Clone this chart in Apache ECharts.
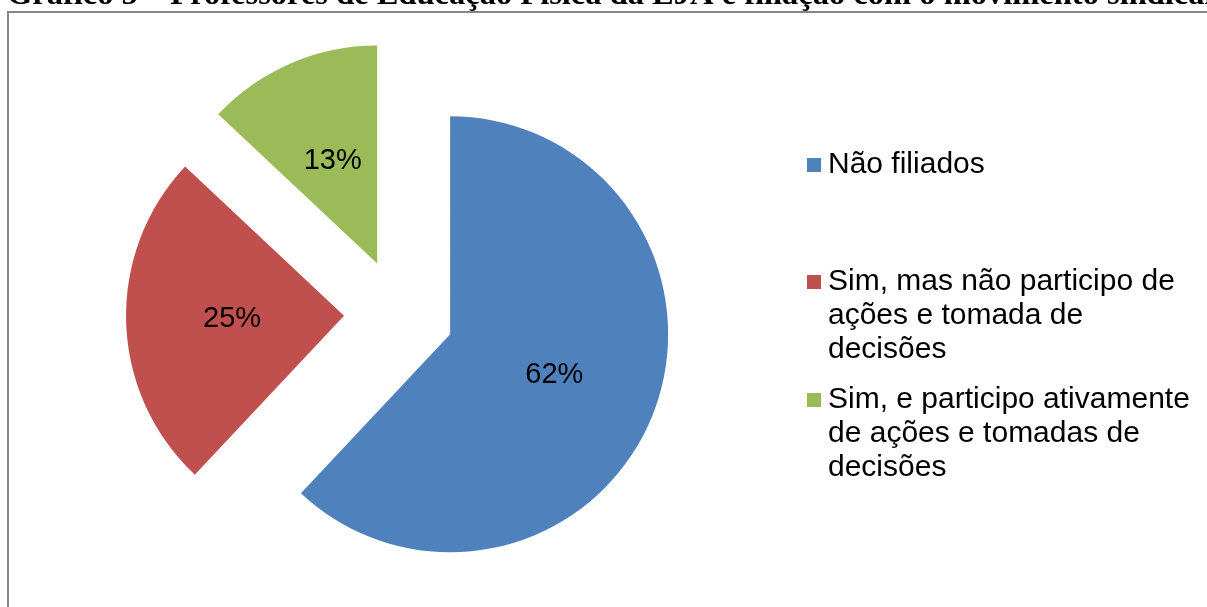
<!DOCTYPE html>
<html>
<head>
<meta charset="utf-8">
<script src="https://cdn.jsdelivr.net/npm/echarts@6/dist/echarts.min.js"></script>
<style>
    html, body { margin: 0; padding: 0; background: #fff; }
    #chart { width: 1207px; height: 607px; }
</style>
</head>
<body>
<div id="chart"></div>
<script>
// dados do gráfico
var categorias = ['Não filiados', 'Sim, mas não participo de ações e tomada de decisões', 'Sim, e participo ativamente de ações e tomadas de decisões'];
var valores = [62, 25, 13];
var cores = ['#4F81BD', '#C0504D', '#9BBB59'];
// texto da legenda quebrado em linhas como no original
var linhasLegenda = [
    ['Não filiados'],
    ['Sim, mas não participo de', 'ações e tomada de', 'decisões'],
    ['Sim, e participo ativamente', 'de ações e tomadas de', 'decisões']
];
var titulo = 'Gráfico 5 – Professores de Educação Física da EJA e filiação com o movimento sindical';

var chart = echarts.init(document.getElementById('chart'));

var dados = [];
for (var i = 0; i < categorias.length; i++) {
    dados.push({ name: categorias[i], value: valores[i], selected: true, itemStyle: { color: cores[i] } });
}

function legenda(i, top, multi) {
    return {
        orient: 'vertical',
        left: 807,
        top: top,
        padding: 0,
        itemWidth: 14,
        itemHeight: multi ? 102 : 14,
        icon: multi ? 'path://M0,0M0,10L14,10L14,24L0,24ZM14,102' : 'rect',
        selectedMode: false,
        data: [categorias[i]],
        formatter: function (name) {
            return linhasLegenda[categorias.indexOf(name)].join('\n');
        },
        textStyle: {
            fontFamily: 'Liberation Sans, Arial',
            fontSize: 30,
            lineHeight: 34,
            color: '#000',
            padding: [0, 0, 0, 2]
        }
    };
}

chart.setOption({
    animation: false,
    backgroundColor: '#fff',
    title: {
        text: titulo,
        left: 7,
        top: -21,
        padding: 0,
        textStyle: {
            fontFamily: 'Liberation Serif, Times New Roman',
            fontWeight: 'bold',
            fontSize: 32.5,
            color: '#000'
        }
    },
    graphic: [{
        type: 'rect',
        shape: { x: 8, y: 12, width: 1400, height: 800 },
        style: { fill: 'none', stroke: '#868686', lineWidth: 2 },
        silent: true
    }],
    legend: [legenda(0, 148, false), legenda(1, 265, true), legenda(2, 383, true)],
    series: [{
        type: 'pie',
        center: [399, 314],
        radius: 218,
        startAngle: 90,
        clockwise: true,
        selectedMode: 'multiple',
        selectedOffset: 55,
        avoidLabelOverlap: false,
        itemStyle: { borderWidth: 0 },
        label: {
            show: true,
            position: 'inside',
            formatter: '{c}%',
            fontFamily: 'Liberation Sans, Arial',
            fontSize: 29,
            color: '#000'
        },
        labelLine: { show: false },
        data: dados
    }]
});
</script>
</body>
</html>
